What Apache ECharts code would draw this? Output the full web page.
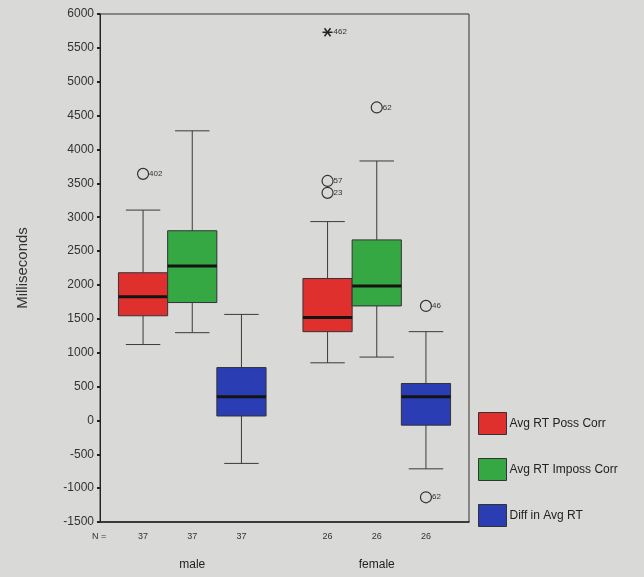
<!DOCTYPE html>
<html>
<head>
<meta charset="utf-8">
<script src="https://cdn.jsdelivr.net/npm/echarts@6/dist/echarts.min.js"></script>
<style>
html,body{margin:0;padding:0;background:#d9d9d7;}
#c{width:644px;height:577px;}
</style>
</head>
<body>
<div id="c"></div>
<script>
// ---- data ----
var categories = ['male', 'female'];
var seriesNames = ['Avg RT Poss Corr', 'Avg RT Imposs Corr', 'Diff in Avg RT'];
var seriesColors = ['#e0302e', '#36a843', '#2a3db2'];
// [low whisker, Q1, median, Q3, high whisker] per category
var possCorr   = [[1120, 1545, 1825, 2180, 3105], [850, 1310, 1520, 2095, 2935]];
var impossCorr = [[1295, 1740, 2280, 2800, 4275], [935, 1690, 1985, 2665, 3830]];
var diffAvg    = [[-635, 65, 350, 780, 1565], [-715, -70, 350, 545, 1310]];
var counts = [[37, 26], [37, 26], [37, 26]];
// outliers: [category index, series index, value, case label, symbol]
var outliers = [
  [0, 0, 3640, '402', 'circle'],
  [1, 0, 5730, '462', 'star'],
  [1, 0, 3535, '57', 'circle'],
  [1, 0, 3360, '23', 'circle'],
  [1, 1, 4620, '62', 'circle'],
  [1, 2, 1690, '46', 'circle'],
  [1, 2, -1135, '62', 'circle']
];
var yTicks = {min: -1500, max: 6000, interval: 500};

var boxSets = [possCorr, impossCorr, diffAvg];

function boxRender(params, api) {
  var cat = api.value(0);
  var s = params.seriesIndex;
  var band = api.size([1, 0])[0];
  var bw = band * 0.8 / 3;
  var cx = api.coord([cat, 0])[0] + (s - 1) * bw;
  var yLow = api.coord([cat, api.value(1)])[1];
  var yQ1 = api.coord([cat, api.value(2)])[1];
  var yMed = api.coord([cat, api.value(3)])[1];
  var yQ3 = api.coord([cat, api.value(4)])[1];
  var yHigh = api.coord([cat, api.value(5)])[1];
  var yBase = api.coord([cat, yTicks.min])[1];
  var cap = bw * 0.7;
  var lineStyle = {stroke: '#3a3a3a', lineWidth: 1, fill: null};
  return {
    type: 'group',
    children: [
      {type: 'line', shape: {x1: cx, y1: yHigh, x2: cx, y2: yQ3}, style: lineStyle},
      {type: 'line', shape: {x1: cx, y1: yQ1, x2: cx, y2: yLow}, style: lineStyle},
      {type: 'line', shape: {x1: cx - cap / 2, y1: yHigh, x2: cx + cap / 2, y2: yHigh}, style: lineStyle},
      {type: 'line', shape: {x1: cx - cap / 2, y1: yLow, x2: cx + cap / 2, y2: yLow}, style: lineStyle},
      {type: 'rect', shape: {x: cx - bw / 2, y: yQ3, width: bw, height: yQ1 - yQ3},
        style: {fill: seriesColors[s], stroke: '#33323a', lineWidth: 1}},
      {type: 'line', shape: {x1: cx - bw / 2, y1: yMed, x2: cx + bw / 2, y2: yMed},
        style: {stroke: '#141414', lineWidth: 3}},
      {type: 'text', x: cx, y: yBase + 15,
        style: {text: String(counts[s][cat]), fontSize: 9, fill: '#333', align: 'center', verticalAlign: 'middle', fontFamily: 'Liberation Sans'}}
    ]
  };
}

function outlierRender(params, api) {
  var cat = api.value(0);
  var s = api.value(1);
  var band = api.size([1, 0])[0];
  var bw = band * 0.8 / 3;
  var p = api.coord([cat, api.value(2)]);
  var cx = p[0] + (s - 1) * bw;
  var cy = p[1];
  var o = outliers[params.dataIndex];
  var children = [];
  if (o[4] === 'circle') {
    children.push({type: 'circle', shape: {cx: cx, cy: cy, r: 5.5},
      style: {fill: null, stroke: '#333', lineWidth: 1.2}});
  } else {
    var r = 5;
    children.push({type: 'line', shape: {x1: cx - r, y1: cy, x2: cx + r, y2: cy}, style: {stroke: '#222', lineWidth: 1.5}});
    children.push({type: 'line', shape: {x1: cx - r * 0.6, y1: cy - r * 0.8, x2: cx + r * 0.6, y2: cy + r * 0.8}, style: {stroke: '#222', lineWidth: 1.5}});
    children.push({type: 'line', shape: {x1: cx - r * 0.6, y1: cy + r * 0.8, x2: cx + r * 0.6, y2: cy - r * 0.8}, style: {stroke: '#222', lineWidth: 1.5}});
  }
  children.push({type: 'text', x: cx + 6, y: cy,
    style: {text: o[3], fontSize: 8, fill: '#333', align: 'left', verticalAlign: 'middle', fontFamily: 'Liberation Sans'}});
  return {type: 'group', children: children};
}

var series = seriesNames.map(function (name, s) {
  return {
    name: name,
    type: 'custom',
    renderItem: boxRender,
    itemStyle: {color: seriesColors[s]},
    encode: {x: 0, y: [1, 2, 3, 4, 5]},
    clip: false,
    data: boxSets[s].map(function (v, i) { return [i].concat(v); })
  };
});
series.push({
  name: 'outliers',
  type: 'custom',
  renderItem: outlierRender,
  encode: {x: 0, y: 2},
  clip: false,
  data: outliers.map(function (o) { return [o[0], o[1], o[2]]; })
});

var chart = echarts.init(document.getElementById('c'));
chart.setOption({
  backgroundColor: '#d9d9d7',
  animation: false,
  textStyle: {fontFamily: 'Liberation Sans'},
  grid: {left: 100, right: 175, top: 14, bottom: 55, show: true, borderColor: '#333', borderWidth: 1, backgroundColor: 'transparent'},
  legend: {
    data: seriesNames,
    orient: 'vertical',
    left: 478, top: 412,
    itemWidth: 28, itemHeight: 22, itemGap: 23,
    icon: 'rect',
    padding: 0,
    itemStyle: {borderColor: '#333', borderWidth: 1},
    textStyle: {fontSize: 12, color: '#222', padding: [0, 0, 0, -2]},
    selectedMode: false
  },
  xAxis: {
    type: 'category',
    data: categories,
    axisLine: {onZero: false, lineStyle: {color: '#222', width: 1.5}},
    axisTick: {alignWithLabel: true, length: 3, lineStyle: {color: '#222', width: 2}},
    axisLabel: {margin: 37, fontSize: 12, color: '#222'},
    splitLine: {show: false}
  },
  yAxis: {
    type: 'value',
    min: yTicks.min, max: yTicks.max, interval: yTicks.interval,
    name: 'Milliseconds',
    nameLocation: 'middle',
    nameRotate: 90,
    nameGap: 70,
    nameTextStyle: {fontSize: 15, color: '#333'},
    axisLine: {show: true, lineStyle: {color: '#222', width: 1}},
    axisTick: {show: true, length: 3, lineStyle: {color: '#222', width: 2}},
    axisLabel: {fontSize: 12, color: '#333', margin: 6, formatter: function (v) { return String(v); }},
    splitLine: {show: false}
  },
  graphic: [{
    type: 'text', left: 92, top: 532,
    style: {text: 'N =', fontSize: 9, fill: '#333', fontFamily: 'Liberation Sans'}
  }],
  series: series
});
</script>
</body>
</html>
